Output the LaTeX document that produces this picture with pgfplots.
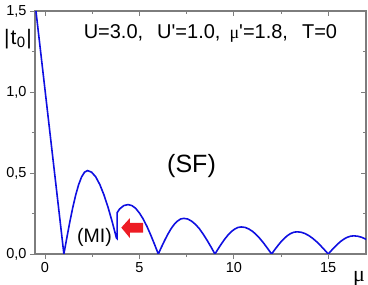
\documentclass[border=0pt]{standalone}
\usepackage{fontspec}
\setmainfont{Liberation Sans}
\newfontfamily\serifmu{Liberation Serif}
\usepackage{pgfplots}
\pgfplotsset{compat=1.18}
\definecolor{curveblue}{RGB}{15,15,225}
\definecolor{arrowred}{RGB}{237,28,36}
\definecolor{axgray}{RGB}{125,125,125}
\begin{document}
\begin{tikzpicture}
\pgfplotsset{
 common/.style={
  scale only axis, width=331bp, height=243bp, at={(0,0)}, anchor=south west,
  xmin=-0.53, xmax=17.0, ymin=0, ymax=1.5,
  xtick={0,5,10,15}, ytick={0,0.5,1,1.5},
  minor x tick num=1, minor y tick num=1,
  axis line style={axgray, line width=1.1bp},
  major tick length=5bp, minor tick length=3bp,
  every tick/.style={axgray, line width=0.9bp},
  /pgf/number format/assume math mode=true,
  tick label style={font=\fontsize{14.5bp}{16bp}\selectfont},
 }
}
\begin{axis}[common, tick align=inside, xtick pos=top, ytick pos=right, xticklabels={}, yticklabels={}]
\end{axis}
\begin{axis}[common, tick align=outside, xtick pos=bottom, ytick pos=left,
  y tick label style={/pgf/number format/.cd, use comma, fixed, fixed zerofill, precision=1},
  x tick label style={/pgf/number format/.cd, fixed, precision=0}]
\addplot[curveblue, line width=1.6bp] coordinates {
(-0.48,1.5) (1,0)
(1.156,0.100) (1.3125,0.197) (1.469,0.286) (1.625,0.364) (1.781,0.428) (1.9375,0.476) (2.094,0.505) (2.25,0.515)
(2.469,0.505) (2.6875,0.476) (2.906,0.428) (3.125,0.364) (3.344,0.286) (3.5625,0.197) (3.781,0.100) (3.82,0.095)
(3.82,0.255) (3.95,0.278) (4.175,0.299) (4.4,0.305)
(4.6,0.299) (4.8,0.282) (5.0,0.253) (5.2,0.216) (5.4,0.170) (5.6,0.117) (5.8,0.060) (6.0,0)
(6.169,0.043) (6.3375,0.084) (6.506,0.122) (6.675,0.156) (6.844,0.183) (7.0125,0.203) (7.181,0.216) (7.35,0.22)
(7.556,0.216) (7.7625,0.203) (7.969,0.183) (8.175,0.156) (8.381,0.122) (8.5875,0.084) (8.794,0.043) (9,0)
(9.175,0.0326) (9.35,0.064) (9.525,0.093) (9.7,0.118) (9.875,0.139) (10.05,0.154) (10.225,0.164) (10.4,0.167)
(10.6,0.164) (10.8,0.154) (11.0,0.139) (11.2,0.118) (11.4,0.093) (11.6,0.064) (11.8,0.0326) (12,0)
(12.169,0.0267) (12.3375,0.0525) (12.506,0.0762) (12.675,0.0969) (12.844,0.1138) (13.0125,0.1266) (13.181,0.1344) (13.35,0.137)
(13.556,0.1344) (13.7625,0.1266) (13.969,0.1138) (14.175,0.0969) (14.381,0.0762) (14.5875,0.0525) (14.794,0.0267) (15,0)
(15.169,0.0218) (15.3375,0.0429) (15.506,0.0622) (15.675,0.0792) (15.844,0.093) (16.0125,0.1035) (16.181,0.1099) (16.35,0.112)
(16.556,0.1099) (16.7625,0.1035) (16.969,0.093) (17.175,0.079)
};
\fill[arrowred] (axis cs:4.04,0.163) -- (axis cs:4.5,0.222) -- (axis cs:4.5,0.192) -- (axis cs:5.2,0.192)
  -- (axis cs:5.2,0.132) -- (axis cs:4.5,0.132) -- (axis cs:4.5,0.098) -- cycle;
\node[anchor=base, font=\fontsize{20bp}{22bp}\selectfont, inner sep=0pt] at (axis cs:8.76,1.333)
  {U=3.0,\hspace{14bp}U\textquotesingle=1.0,\hspace{9bp}{\serifmu\fontsize{18bp}{18bp}\selectfont μ}\textquotesingle=1.8,\hspace{14bp}T=0};
\node[anchor=base, font=\fontsize{25bp}{27bp}\selectfont, inner sep=0pt] at (axis cs:7.76,0.50) {(SF)};
\node[anchor=base, font=\fontsize{19.5bp}{21bp}\selectfont, inner sep=0pt] at (axis cs:2.62,0.068) {(MI)};
\end{axis}
\node[anchor=base west, inner sep=0pt, font=\fontsize{21bp}{23bp}\selectfont] at (-31bp,209bp) {|\kern1bp t\kern0.5bp\raisebox{-3bp}{\fontsize{15bp}{16bp}\selectfont 0}\kern1bp|};
\node[anchor=base, inner sep=0pt, font=\serifmu\fontsize{22bp}{23bp}\selectfont] at (324bp,-27bp) {μ};
\pgfresetboundingbox
\path (-35bp,-31bp) rectangle (333bp,254bp);
\end{tikzpicture}
\end{document}
